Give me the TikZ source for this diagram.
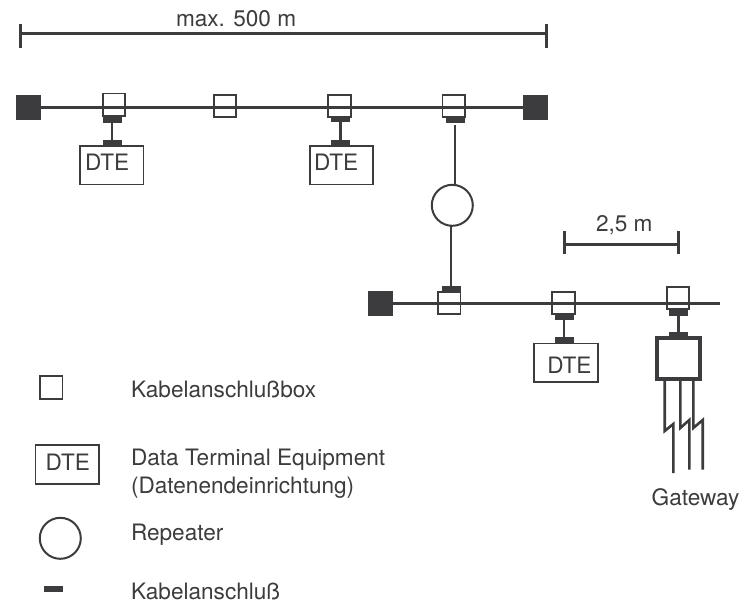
\documentclass[tikz,border=0pt]{standalone}
\usepackage{fontspec}
\setmainfont{TeX Gyre Heros}
\definecolor{cable}{RGB}{60, 60, 62}
\tikzset{
  bus/.style={color=cable, line width=3pt},
  wire/.style={color=cable, line width=2.6pt},
  terminator/.style={fill=cable, inner sep=0pt, outer sep=0pt, minimum width=25pt, minimum height=25pt},
  anschlussbox/.style={draw=cable, line width=1.9pt, inner sep=0pt, outer sep=0pt, minimum width=22.4pt, minimum height=22.4pt},
  anschluss/.style={fill=cable, inner sep=0pt, outer sep=0pt, minimum width=19pt, minimum height=6.4pt},
  dtebox/.style={draw=cable, line width=1.8pt, inner sep=0pt, outer sep=0pt, minimum width=63.6pt, minimum height=38.8pt},
  repeater/.style={circle, draw=cable, line width=2pt, inner sep=0pt, outer sep=0pt, minimum size=41pt},
  gatewaybox/.style={draw=cable, line width=4.2pt, inner sep=0pt, outer sep=0pt, minimum width=43pt, minimum height=40.7pt},
  schrift/.style={color=cable, font=\fontsize{22.6pt}{26pt}\selectfont, inner sep=0pt, outer sep=0pt, anchor=base west},
  tick/.style={color=cable, line width=3pt}
}

\begin{document}
\begin{tikzpicture}[x=1pt, y=-1pt]
            \useasboundingbox (0,0) rectangle (744,603);

            % upper segment, 500 m
            \coordinate (maxL)  at (20.5,33.5);
            \coordinate (maxR)  at (546,33.5);
            \node[schrift] (maxtext) at (176,26) {max. 500 m};
            \draw[tick] (maxL) -- (maxR);
            \draw[tick] (20.5,24) -- (20.5,48);
            \draw[tick] (546,24) -- (546,48);

            \node[terminator]   (termA) at ( 28.5,107) {};
            \node[terminator]   (termB) at (535.5,107) {};
            \draw[bus] (termA) -- (termB);
            \node[anschlussbox] (boxA)  at (114,104.7) {};
            \node[anschlussbox] (boxB)  at (225,106.2) {};
            \node[anschlussbox] (boxC)  at (339.5,106.2) {};
            \node[anschlussbox] (boxD)  at (453.7,106.2) {};

            \node[anschluss]    (conA)  at (112,120) {};
            \node[anschluss]    (tabA)  at (112,143) {};
            \draw[wire] (conA.south) -- (tabA.north);
            \node[dtebox]       (dteA)  at (111.7,165) {};
            \node[schrift]      (dteAtext) at (85,170.7) {DTE};

            \node[anschluss]    (conC)  at (340.5,119) {};
            \node[anschluss]    (tabC)  at (340.5,143) {};
            \draw[wire] (conC.south) -- (tabC.north);
            \node[dtebox]       (dteC)  at (341.5,165) {};
            \node[schrift]      (dteCtext) at (314,170.7) {DTE};

            % repeater between the segments
            \node[anschluss]    (conD)  at (455,120) {};
            \node[repeater]     (rep)   at (452.3,205.3) {};
            \draw[wire, shorten <=1.6pt] (conD.south) -- (conD.south |- rep.north);

            % lower segment
            \node[terminator]   (termC) at (380.5,303) {};
            \coordinate         (busEnd) at (720,303);
            \draw[bus] (termC) -- (busEnd);
            \node[anschlussbox] (boxE)  at (449.3,302.8) {};
            \node[anschlussbox] (boxF)  at (563.5,302.8) {};
            \node[anschlussbox] (boxG)  at (678,298) {};

            \node[anschluss]    (tabE)  at (451,288.8) {};
            \draw[wire] (tabE.north) -- (tabE.north |- rep.south);

            \node[anschluss]    (conF)  at (564,316.3) {};
            \node[anschluss]    (tabF)  at (564,340) {};
            \draw[wire] (conF.south) -- (tabF.north);
            \node[dtebox]       (dteF)  at (565.8,362.8) {};
            \node[schrift]      (dteFtext) at (547.3,373.3) {DTE};

            % gateway
            \node[anschluss]    (conG)  at (678.5,312.5) {};
            \node[anschluss]    (tabG)  at (678.5,335.4) {};
            \draw[wire] (conG.south) -- (tabG.north);
            \node[gatewaybox]   (gate)  at (678.5,358.4) {};
            \draw[wire] (664.7,379) -- (664.7,431) -- (673.3,424) -- (673.3,473);
            \draw[wire] (680.3,379) -- (680.3,428) -- (689.3,420) -- (689.3,469.5);
            \draw[wire] (693.3,379) -- (693.3,428) -- (702.7,420) -- (702.7,469.5);
            \node[schrift]      (gatetext) at (651.7,505.7) {Gateway};

            % 2,5 m
            \coordinate (kurzL) at (564.3,244);
            \coordinate (kurzR) at (678.3,244);
            \node[schrift] (kurztext) at (596,231) {2,5 m};
            \draw[tick] (kurzL) -- (kurzR);
            \draw[tick] (564.3,231) -- (564.3,253.5);
            \draw[tick] (678.3,231) -- (678.3,253.5);

            % legend
            \node[anschlussbox] (legbox) at (51.3,387.5) {};
            \node[schrift]      (legboxtext) at (131,397.7) {Kabelanschlußbox};
            \node[dtebox]       (legdte) at (67.3,464.5) {};
            \node[schrift]      (legdtetext) at (45.7,470.7) {DTE};
            \node[schrift]      (legdteA) at (131,465) {Data Terminal Equipment};
            \node[schrift]      (legdteB) at (131,493) {(Datenendeinrichtung)};
            \node[repeater]     (legrep) at (60.3,538.3) {};
            \node[schrift]      (legreptext) at (131,540) {Repeater};
            \node[anschluss]    (legcon) at (53,589) {};
            \node[schrift]      (legcontext) at (131,599) {Kabelanschluß};
            \end{tikzpicture}
\end{document}
